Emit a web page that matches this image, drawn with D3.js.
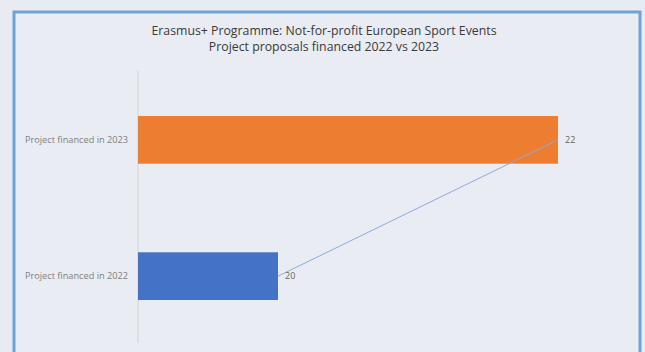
<!DOCTYPE html>
<html>
<head>
<meta charset="utf-8">
<script src="https://cdn.jsdelivr.net/npm/d3@7"></script>
<style>
  html, body { margin: 0; padding: 0; background: #e8ebf1; }
  svg { display: block; }
</style>
</head>
<body>
<div id="chart"></div>
<script>
// chart data
const categories = ['Project financed in 2022', 'Project financed in 2023'];
const values = [20, 22];
const barColors = ['#4472c4', '#ed7d31'];
const titleLines = ['Erasmus+ Programme: Not-for-profit European Sport Events', 'Project proposals financed 2022 vs 2023'];
const axisMin = 19;

const width = 645, height = 352;
const svg = d3.select('#chart').append('svg').attr('width', width).attr('height', height);

// frame
svg.append('rect')
    .attr('x', 14).attr('y', 12)
    .attr('width', 626).attr('height', 360)
    .attr('fill', '#e9ecf2')
    .attr('stroke', '#6ea3d9').attr('stroke-width', 3);

svg.selectAll('.title')
    .data(titleLines)
    .join('text')
    .attr('x', 324).attr('y', (d, i) => 35 + i * 15.5)
    .attr('text-anchor', 'middle')
    .attr('font-family', 'Open Sans, sans-serif')
    .attr('font-size', 12.3)
    .attr('fill', '#3a3a3a')
    .text(d => d);

const x = d3.scaleLinear().domain([axisMin, 22]).range([138, 558]);
const y = d3.scaleBand().domain(categories.slice().reverse()).range([71, 345]).paddingInner(0.65).paddingOuter(0.33);

// category axis line
svg.append('line')
    .attr('x1', 138).attr('x2', 138)
    .attr('y1', 71).attr('y2', 343)
    .attr('stroke', '#d0d3d8');

svg.selectAll('.bar')
    .data(categories)
    .join('rect')
    .attr('x', x(axisMin))
    .attr('y', d => y(d))
    .attr('width', (d, i) => x(values[i]) - x(axisMin))
    .attr('height', y.bandwidth())
    .attr('fill', (d, i) => barColors[i]);

svg.selectAll('.cat')
    .data(categories)
    .join('text')
    .attr('x', 128)
    .attr('y', d => y(d) + y.bandwidth() / 2 + 3)
    .attr('text-anchor', 'end')
    .attr('font-family', 'Open Sans, sans-serif')
    .attr('font-size', 9.2)
    .attr('fill', '#808080')
    .text(d => d);

// connecting line between bar ends
const line = d3.line()
    .x((d, i) => x(values[i]))
    .y((d, i) => y(categories[i]) + y.bandwidth() / 2);
svg.append('path')
    .datum(categories)
    .attr('d', line)
    .attr('fill', 'none')
    .attr('stroke', '#8eaadc')
    .attr('stroke-width', 1);

svg.selectAll('.val')
    .data(categories)
    .join('text')
    .attr('x', (d, i) => x(values[i]) + 7)
    .attr('y', d => y(d) + y.bandwidth() / 2 + 3)
    .attr('font-family', 'Open Sans, sans-serif')
    .attr('font-size', 9)
    .attr('fill', '#666')
    .text((d, i) => values[i]);
</script>
</body>
</html>
